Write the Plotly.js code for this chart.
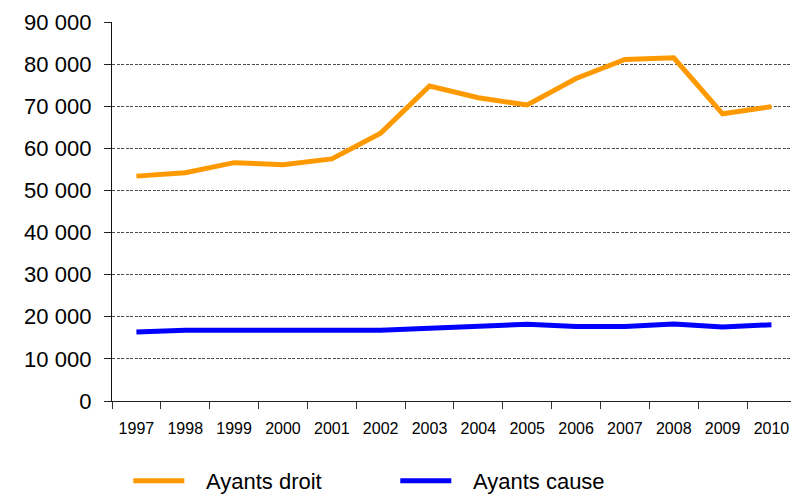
<!DOCTYPE html>
<html>
<head>
<meta charset="utf-8">
<script src="https://cdn.plot.ly/plotly-3.0.1.min.js"></script>
<style>html,body{margin:0;padding:0;background:#fff;}#chart{width:791px;height:494px;}</style>
</head>
<body>
<div id="chart"></div>
<script>
const years = ["1997","1998","1999","2000","2001","2002","2003","2004","2005","2006","2007","2008","2009","2010"];
const ayantsDroit = [53400, 54200, 56600, 56100, 57500, 63600, 74800, 72000, 70300, 76600, 81100, 81500, 68200, 69900];
const ayantsCause = [16400, 16800, 16800, 16800, 16800, 16800, 17300, 17800, 18200, 17700, 17700, 18300, 17600, 18100];
const yTicks = [0, 10000, 20000, 30000, 40000, 50000, 60000, 70000, 80000, 90000];
const seriesNames = ["Ayants droit", "Ayants cause"];

const font = "Liberation Sans, Arial, sans-serif";
const pad = "\u00A0\u00A0\u2009";
const traces = [
  {x: years, y: ayantsDroit, type: "scatter", mode: "lines", name: pad + seriesNames[0],
   line: {color: "#FF9900", width: 5}},
  {x: years, y: ayantsCause, type: "scatter", mode: "lines", name: pad + seriesNames[1],
   line: {color: "#0000FF", width: 5}}
];
const layout = {
  width: 791, height: 494,
  margin: {l: 112, r: 0, t: 22, b: 93, autoexpand: false},
  paper_bgcolor: "#fff", plot_bgcolor: "#fff",
  separators: ", ",
  font: {family: font, color: "#000"},
  showlegend: true,
  legend: {orientation: "h", x: 0.024, y: -0.211, xanchor: "left", yanchor: "middle",
           font: {family: font, size: 22, color: "#000"}, entrywidth: 201, entrywidthmode: "pixels",
           itemwidth: 51, tracegroupgap: 0},
  xaxis: {type: "category", range: [-0.5, 13.4], tickson: "boundaries",
          showline: true, linecolor: "#222", linewidth: 1.2,
          ticks: "outside", ticklen: 7, tickcolor: "#333", tickwidth: 1,
          showgrid: false, zeroline: false, ticklabelstandoff: 13,
          tickfont: {family: font, size: 16, color: "#000"}},
  yaxis: {range: [0, 90000], tickvals: yTicks, tickformat: ",d",
          showline: true, linecolor: "#111", linewidth: 1.2,
          ticks: "outside", ticklen: 7, tickcolor: "#222", tickwidth: 1,
          showgrid: true, gridcolor: "#222", gridwidth: 0.8, griddash: "3px,1.5px",
          zeroline: false, ticklabelstandoff: 8,
          tickfont: {family: font, size: 22, color: "#000"}}
};
Plotly.newPlot("chart", traces, layout, {staticPlot: true, displayModeBar: false});
</script>
</body>
</html>
